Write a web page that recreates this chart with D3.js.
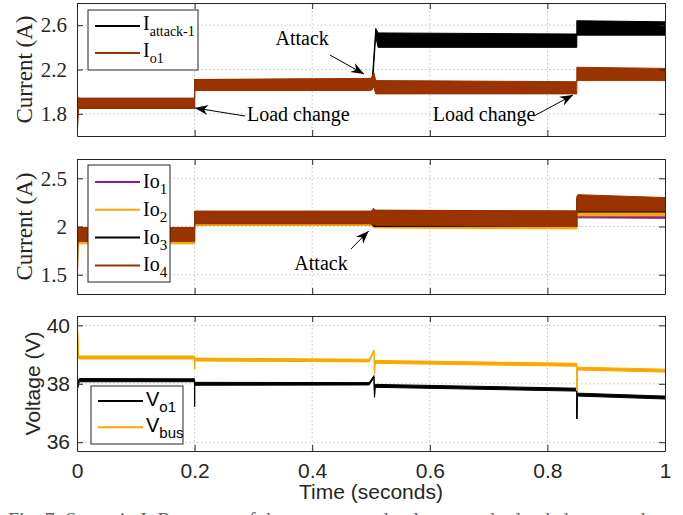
<!DOCTYPE html>
<html>
<head>
<meta charset="utf-8">
<script src="https://cdn.jsdelivr.net/npm/d3@7"></script>
<style>
    html, body { margin: 0; padding: 0; background: #fff; overflow: hidden; }
    svg { display: block; }
</style>
</head>
<body>
<div id="chart"></div>
<script>

// ---- data ----
const timeTicks = [0, 0.2, 0.4, 0.6, 0.8, 1];
const topTicks = [1.8, 2.2, 2.6];
const midTicks = [1.5, 2, 2.5];
const botTicks = [36, 38, 40];

// bands: [time, low, high]  (noise envelope of each trace)
const iAttack1 = [
    [0, 1.85, 1.94], [0.2, 1.85, 1.94], [0.2, 2.01, 2.11], [0.502, 2.02, 2.10],
    [0.508, 2.50, 2.57], [0.512, 2.40, 2.53], [0.85, 2.40, 2.52], [0.85, 2.51, 2.64], [1, 2.51, 2.63]
];
const iO1 = [
    [0, 1.60, 1.96], [0.003, 1.85, 1.94], [0.2, 1.85, 1.94], [0.2, 2.01, 2.11],
    [0.5, 2.01, 2.12], [0.505, 2.04, 2.17], [0.508, 1.98, 2.10], [0.85, 1.98, 2.09],
    [0.85, 2.10, 2.22], [1, 2.10, 2.21]
];
const io1 = [
    [0, 1.84, 1.95], [0.2, 1.84, 1.95], [0.2, 2.02, 2.12], [0.5, 2.02, 2.12],
    [0.504, 2.00, 2.19], [0.508, 2.00, 2.12], [0.85, 1.995, 2.12], [0.85, 2.09, 2.18], [1, 2.085, 2.17]
];
const io2 = [
    [0, 1.30, 1.95], [0.002, 1.82, 1.96], [0.2, 1.82, 1.96], [0.2, 2.01, 2.12],
    [0.5, 2.01, 2.12], [0.505, 1.985, 2.14], [0.85, 1.975, 2.13], [0.85, 2.11, 2.20], [1, 2.11, 2.19]
];
const io3 = [
    [0, 1.85, 1.98], [0.2, 1.85, 1.98], [0.2, 2.03, 2.15], [0.5, 2.03, 2.15],
    [0.505, 2.00, 2.16], [0.85, 2.00, 2.16], [0.85, 2.15, 2.29], [1, 2.15, 2.28]
];
const io4 = [
    [0, 1.30, 1.99], [0.002, 1.85, 1.99], [0.2, 1.85, 1.99], [0.2, 2.03, 2.16],
    [0.5, 2.03, 2.16], [0.505, 2.02, 2.18], [0.508, 2.01, 2.17], [0.85, 2.00, 2.16],
    [0.85, 2.16, 2.31], [0.852, 2.16, 2.33], [1, 2.16, 2.30]
];
const vO1 = [
    [0, 37.75, 38.0], [0.004, 38.07, 38.18], [0.2, 38.07, 38.17], [0.2, 37.22, 37.22],
    [0.2, 37.95, 38.05], [0.497, 37.96, 38.04], [0.505, 38.22, 38.28], [0.506, 37.54, 37.54],
    [0.507, 37.88, 37.98], [0.85, 37.75, 37.85], [0.85, 36.8, 36.8], [0.851, 37.58, 37.68],
    [1, 37.48, 37.58]
];
const vBus = [
    [0, 35.7, 35.7], [0.001, 39.82, 39.82], [0.003, 38.85, 38.95], [0.2, 38.85, 38.95],
    [0.2, 38.5, 38.5], [0.2, 38.78, 38.88], [0.497, 38.75, 38.84], [0.505, 39.1, 39.16],
    [0.506, 38.35, 38.35], [0.507, 38.7, 38.8], [0.85, 38.6, 38.7], [0.85, 37.77, 37.77],
    [0.851, 38.47, 38.57], [1, 38.4, 38.5]
];

// annotations in data units: text anchor point, arrow tail, arrow tip
const topNotes = [
    {text: 'Attack', at: [0.383, 2.484], anchor: 'middle', from: [0.430, 2.331], to: [0.488, 2.159]},
    {text: 'Load change', at: [0.289, 1.735], anchor: 'start', from: [0.286, 1.780], to: [0.2007, 1.853]},
    {text: 'Load change', at: [0.605, 1.735], anchor: 'start', from: [0.777, 1.780], to: [0.8435, 1.970]}
];
const midNotes = [
    {text: 'Attack', at: [0.415, 1.621], anchor: 'middle', from: [0.466, 1.767], to: [0.496, 1.953]}
];

const brown = '#993300', orange = '#f9a800', purple = '#8e1c8e', black = '#000000';
const serif = '"Liberation Serif", "Times New Roman", serif';
const sans = '"Liberation Sans", Arial, sans-serif';
const axisColor = '#262626';

const width = 683, height = 515;
const plotLeft = 77, plotRight = 665;

let svg = d3.select('#chart').append('svg')
    .attr('width', width)
    .attr('height', height);

// arrow head like the MATLAB annotation arrow
svg.append('defs').append('marker')
    .attr('id', 'arrowhead')
    .attr('viewBox', '-14 -6 16 12')
    .attr('refX', 0).attr('refY', 0)
    .attr('markerWidth', 16).attr('markerHeight', 12)
    .attr('markerUnits', 'userSpaceOnUse')
    .attr('orient', 'auto')
    .append('path')
    .attr('d', 'M0,0 L-13,-5 L-9,0 L-13,5 Z')
    .attr('fill', '#000');

class TracePanel {
    constructor(svg, cfg) {
        this.svg = svg;
        this.cfg = cfg;
        this.initVis();
    }

    initVis() {
        let vis = this;
        let cfg = vis.cfg;

        vis.g = vis.svg.append('g').attr('class', 'panel ' + cfg.id);

        vis.x = d3.scaleLinear().domain([0, 1]).range([plotLeft, plotRight]);
        vis.y = d3.scaleLinear().domain(cfg.yDomain).range([cfg.bottom, cfg.top]);

        // dotted grid
        let grid = vis.g.append('g').attr('class', 'grid')
            .attr('stroke', '#c4c4c4')
            .attr('stroke-width', 1)
            .attr('stroke-dasharray', '1.5,2.5');
        grid.selectAll('.gx')
            .data(timeTicks.slice(1, -1))
            .enter().append('line')
            .attr('x1', d => vis.x(d)).attr('x2', d => vis.x(d))
            .attr('y1', cfg.top).attr('y2', cfg.bottom);
        grid.selectAll('.gy')
            .data(cfg.yTicks)
            .enter().append('line')
            .attr('x1', plotLeft).attr('x2', plotRight)
            .attr('y1', d => vis.y(d)).attr('y2', d => vis.y(d));

        // traces
        vis.g.append('clipPath').attr('id', 'clip-' + cfg.id)
            .append('rect')
            .attr('x', plotLeft).attr('y', cfg.top)
            .attr('width', plotRight - plotLeft).attr('height', cfg.bottom - cfg.top);

        vis.area = d3.area()
            .x(d => vis.x(d[0]))
            .y0(d => vis.y(d[1]))
            .y1(d => vis.y(d[2]));

        vis.g.append('g')
            .attr('clip-path', `url(#clip-${cfg.id})`)
            .selectAll('.trace')
            .data(cfg.series)
            .enter().append('path')
            .attr('class', 'trace')
            .attr('d', d => vis.area(d.values))
            .attr('fill', d => d.color)
            .attr('stroke', d => d.color)
            .attr('stroke-width', 1)
            .attr('stroke-linejoin', 'round');

        // box axes with inward ticks
        let left = d3.axisLeft(vis.y).tickValues(cfg.yTicks).tickSize(-6).tickSizeOuter(0)
            .tickPadding(cfg.tickPad).tickFormat(d => d);
        let right = d3.axisRight(vis.y).tickValues(cfg.yTicks).tickSize(-6).tickSizeOuter(0).tickFormat('');
        let top = d3.axisTop(vis.x).tickValues(timeTicks).tickSize(-6).tickSizeOuter(0).tickFormat('');
        let bottom = d3.axisBottom(vis.x).tickValues(timeTicks).tickSize(-6).tickSizeOuter(0)
            .tickPadding(12).tickFormat(cfg.showX ? (d => d) : '');

        vis.g.append('g').attr('transform', `translate(${plotLeft},0)`).call(left);
        vis.g.append('g').attr('transform', `translate(${plotRight},0)`).call(right);
        vis.g.append('g').attr('transform', `translate(0,${cfg.top})`).call(top);
        vis.g.append('g').attr('transform', `translate(0,${cfg.bottom})`).call(bottom);

        vis.g.selectAll('.domain, .tick line').attr('stroke', axisColor);
        vis.g.selectAll('.tick text')
            .attr('fill', axisColor)
            .style('font-family', cfg.font)
            .style('font-size', '21px');

        // y label
        vis.g.append('text')
            .attr('transform', `translate(${cfg.labelX},${(cfg.top + cfg.bottom) / 2}) rotate(-90)`)
            .attr('text-anchor', 'middle')
            .attr('dominant-baseline', 'central')
            .attr('fill', axisColor)
            .style('font-family', cfg.font)
            .style('font-size', cfg.labelSize + 'px')
            .text(cfg.label);

        // annotations
        (cfg.notes || []).forEach(n => {
            vis.g.append('line')
                .attr('x1', vis.x(n.from[0])).attr('y1', vis.y(n.from[1]))
                .attr('x2', vis.x(n.to[0])).attr('y2', vis.y(n.to[1]))
                .attr('stroke', '#000').attr('stroke-width', 1)
                .attr('marker-end', 'url(#arrowhead)');
            vis.g.append('text')
                .attr('x', vis.x(n.at[0])).attr('y', vis.y(n.at[1]))
                .attr('text-anchor', n.anchor)
                .attr('dominant-baseline', n.anchor === 'middle' ? 'central' : 'auto')
                .style('font-family', serif)
                .style('font-size', '20px')
                .text(n.text);
        });

        vis.drawLegend();
    }

    drawLegend() {
        let vis = this;
        let lg = vis.cfg.legend;

        let legend = vis.g.append('g').attr('class', 'legend');
        legend.append('rect')
            .attr('x', lg.x).attr('y', lg.y)
            .attr('width', lg.w).attr('height', lg.h)
            .attr('fill', '#fff')
            .attr('stroke', axisColor)
            .attr('stroke-width', 1);

        let rows = legend.selectAll('.entry')
            .data(vis.cfg.series)
            .enter().append('g')
            .attr('class', 'entry')
            .attr('transform', (d, i) => `translate(0,${lg.firstY + i * lg.step})`);

        rows.append('line')
            .attr('x1', lg.x + 7).attr('x2', lg.x + 52)
            .attr('y1', 0).attr('y2', 0)
            .attr('stroke', d => d.color)
            .attr('stroke-width', 2);

        let txt = rows.append('text')
            .attr('x', lg.x + 55)
            .attr('y', lg.baseOff)
            .attr('fill', '#000')
            .style('font-family', vis.cfg.font)
            .style('font-size', lg.size + 'px');
        txt.append('tspan').text(d => d.main);
        txt.append('tspan')
            .attr('dy', 6)
            .style('font-size', lg.subSize + 'px')
            .text(d => d.sub);
    }
}

new TracePanel(svg, {
    id: 'top', top: 3, bottom: 136, yDomain: [1.6, 2.8], yTicks: topTicks,
    font: serif, tickPad: 10, label: 'Current (A)', labelX: 24, labelSize: 23, showX: false,
    series: [
        {main: 'I', sub: 'attack-1', color: black, values: iAttack1},
        {main: 'I', sub: 'o1', color: brown, values: iO1}
    ],
    legend: {x: 88, y: 10, w: 110, h: 60, firstY: 26, step: 27, baseOff: 4, size: 20, subSize: 14},
    notes: topNotes
});

new TracePanel(svg, {
    id: 'mid', top: 159, bottom: 294, yDomain: [1.3, 2.7], yTicks: midTicks,
    font: serif, tickPad: 10, label: 'Current (A)', labelX: 24, labelSize: 23, showX: false,
    series: [
        {main: 'Io', sub: '1', color: purple, values: io1},
        {main: 'Io', sub: '2', color: orange, values: io2},
        {main: 'Io', sub: '3', color: black, values: io3},
        {main: 'Io', sub: '4', color: brown, values: io4}
    ],
    legend: {x: 88, y: 165, w: 82, h: 117, firstY: 182, step: 27.8, baseOff: 6, size: 20, subSize: 15},
    notes: midNotes
});

new TracePanel(svg, {
    id: 'bot', top: 316, bottom: 451, yDomain: [35.7, 40.32], yTicks: botTicks,
    font: sans, tickPad: 7, label: 'Voltage (V)', labelX: 32, labelSize: 21, showX: true,
    series: [
        {main: 'V', sub: 'o1', color: black, values: vO1},
        {main: 'V', sub: 'bus', color: orange, values: vBus}
    ],
    legend: {x: 91, y: 386, w: 92, h: 58, firstY: 401, step: 26.3, baseOff: 5, size: 20, subSize: 15},
    notes: []
});

// x axis title
svg.append('text')
    .attr('x', (plotLeft + plotRight) / 2)
    .attr('y', 499)
    .attr('text-anchor', 'middle')
    .attr('fill', axisColor)
    .style('font-family', sans)
    .style('font-size', '21px')
    .text('Time (seconds)');

// caption, cut off by the bottom edge as in the figure
svg.append('text')
    .attr('x', 8)
    .attr('y', 527)
    .attr('fill', '#666')
    .style('font-family', serif)
    .style('font-size', '20px')
    .text('Fig. 7: Scenario I: Response of the currents and voltages under load change and attack.');

</script>
</body>
</html>
